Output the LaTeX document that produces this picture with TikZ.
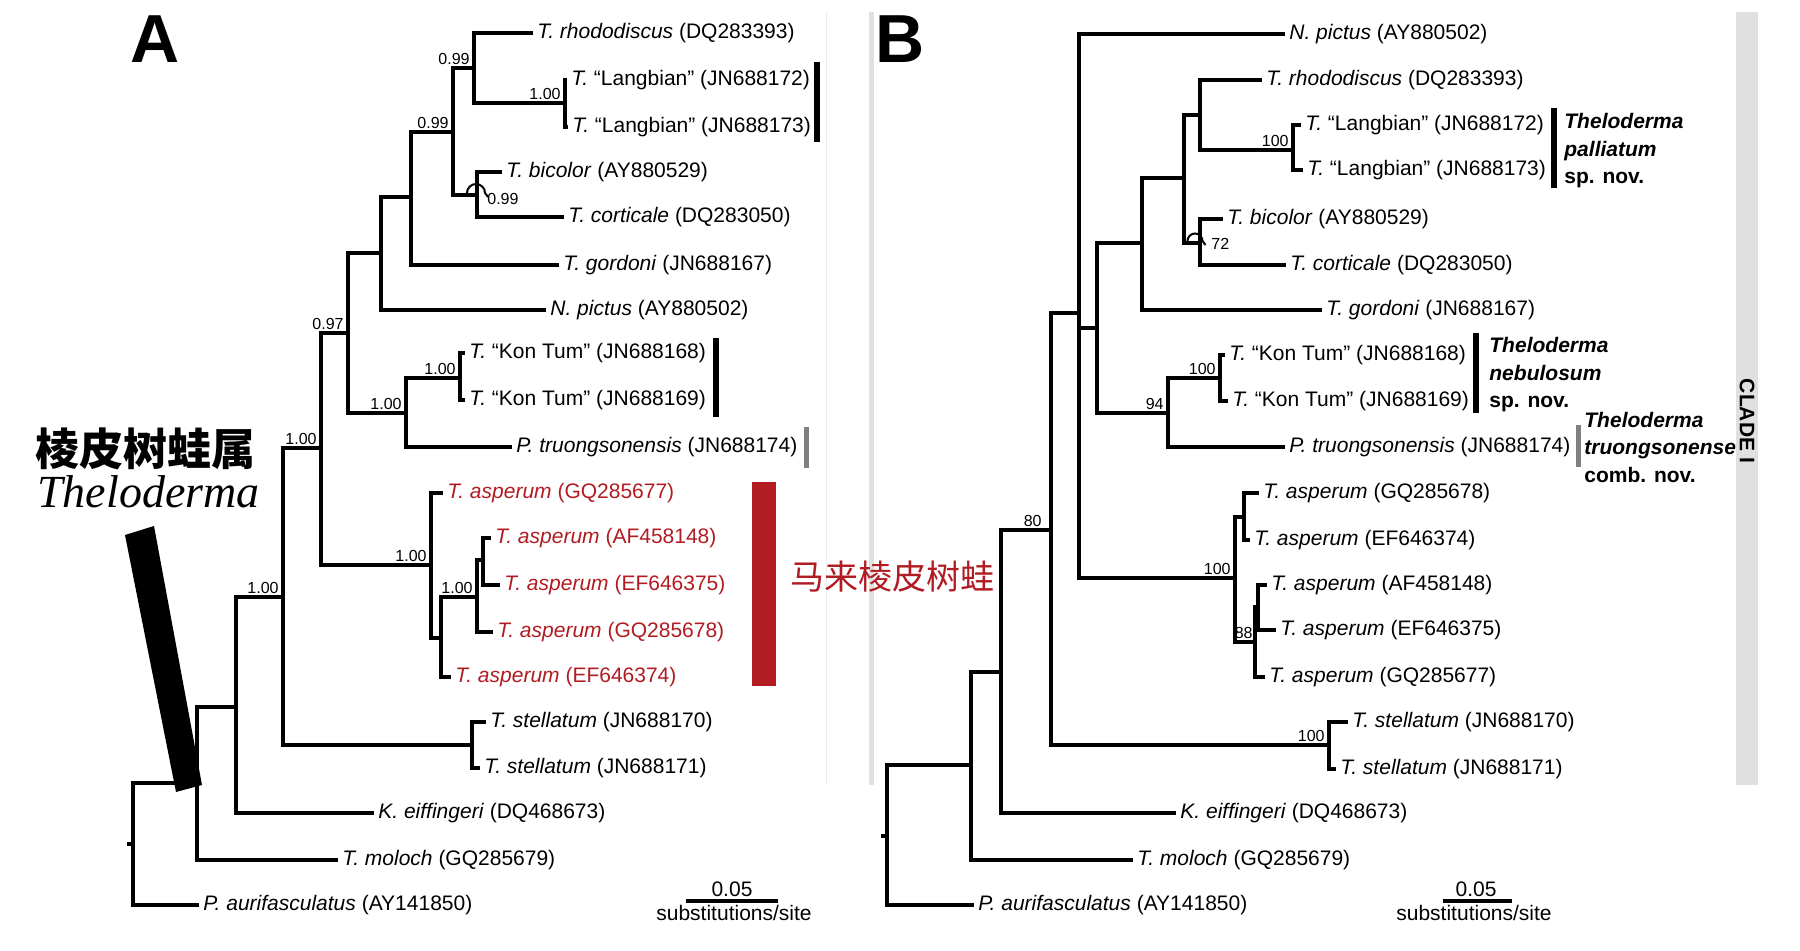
\documentclass[tikz,border=0pt]{standalone}
\usepackage{fontspec}
\setmainfont{Liberation Sans}
\newfontfamily\cjkfont{Noto Sans CJK SC}
\newfontfamily\serifit{Liberation Serif}
\usetikzlibrary{positioning}
\definecolor{asperred}{RGB}{176,28,34}
\definecolor{bandgray}{RGB}{224,224,224}
\definecolor{bargray}{RGB}{128,128,128}

\begin{document}
\begin{tikzpicture}[x=0.5pt,y=-0.5pt,
  branch/.style={line width=1.6pt},
  tip/.style={anchor=west, inner xsep=2pt, inner ysep=1pt, font=\fontsize{10.5}{12}\selectfont},
  redtip/.style={tip, text=asperred},
  supp/.style={inner sep=0.5pt, font=\fontsize{8}{9}\selectfont},
  taxbar/.style={line width=3pt},
  graybar/.style={line width=2.5pt, bargray},
  note/.style={anchor=west, inner sep=0pt, align=left, font=\fontsize{10.5}{13.75}\selectfont\bfseries},
  scaletxt/.style={anchor=base, inner sep=0pt, font=\fontsize{10.5}{12}\selectfont}]
  \useasboundingbox (0,0) rectangle (1800,951);

  % panel frames and clade band
  \fill[bandgray!60] (825.5,12) rectangle (826.5,785);
  \fill[bandgray] (869,12) rectangle (874,785);
  \fill[bandgray] (1736,12) rectangle (1758,785);
  \node[rotate=-90, inner sep=0pt, font=\fontsize{10.5}{12}\selectfont\bfseries] (cladeI) at (1747,421) {CLADE I};

  % panel letters
  \node[font=\fontsize{34}{36}\selectfont\bfseries] (labA) at (155,39) {A};
  \node[font=\fontsize{34}{36}\selectfont\bfseries] (labB) at (900,39) {B};

  % ---------------- tree A ----------------
  \coordinate (A_n0) at (133,844);
  \coordinate (A_n1) at (197,783);
  \coordinate (A_n2) at (236,707);
  \coordinate (A_n3) at (283,597);
  \coordinate (A_n4) at (321,448);
  \coordinate (A_n5) at (348,333);
  \coordinate (A_n6) at (381,253);
  \coordinate (A_n7) at (411,197);
  \coordinate (A_n8) at (453,132);
  \coordinate (A_n9) at (474,68);
  \coordinate (A_lang) at (565,103);
  \coordinate (A_bic) at (477,195);
  \coordinate (A_kon) at (406,413);
  \coordinate (A_kon2) at (460,378);
  \coordinate (A_asp) at (431,565);
  \coordinate (A_asp2) at (441,638);
  \coordinate (A_asp3) at (477,597);
  \coordinate (A_asp4) at (483,560);
  \coordinate (A_stel) at (472,745);
  \coordinate (A_tick) at (127,844);

  \node[tip] (A_t1) at (533,33) {\textit{T. rhododiscus} (DQ283393)};
  \node[tip] (A_t2) at (567,80) {\textit{T.} “Langbian” (JN688172)};
  \node[tip] (A_t3) at (568,127) {\textit{T.} “Langbian” (JN688173)};
  \node[tip] (A_t4) at (502,172) {\textit{T. bicolor} (AY880529)};
  \node[tip] (A_t5) at (564,217) {\textit{T. corticale} (DQ283050)};
  \node[tip] (A_t6) at (559,265) {\textit{T. gordoni} (JN688167)};
  \node[tip] (A_t7) at (546,310) {\textit{N. pictus} (AY880502)};
  \node[tip] (A_t8) at (465,353) {\textit{T.} “Kon Tum” (JN688168)};
  \node[tip] (A_t9) at (465,400) {\textit{T.} “Kon Tum” (JN688169)};
  \node[tip] (A_t10) at (512,447) {\textit{P. truongsonensis} (JN688174)};
  \node[redtip] (A_t11) at (443,493) {\textit{T. asperum} (GQ285677)};
  \node[redtip] (A_t12) at (491,538) {\textit{T. asperum} (AF458148)};
  \node[redtip] (A_t13) at (500,585) {\textit{T. asperum} (EF646375)};
  \node[redtip] (A_t14) at (493,632) {\textit{T. asperum} (GQ285678)};
  \node[redtip] (A_t15) at (451,677) {\textit{T. asperum} (EF646374)};
  \node[tip] (A_t16) at (486,722) {\textit{T. stellatum} (JN688170)};
  \node[tip] (A_t17) at (480,768) {\textit{T. stellatum} (JN688171)};
  \node[tip] (A_t18) at (374,813) {\textit{K. eiffingeri} (DQ468673)};
  \node[tip] (A_t19) at (338,860) {\textit{T. moloch} (GQ285679)};
  \node[tip] (A_t20) at (199,905) {\textit{P. aurifasculatus} (AY141850)};

  \draw[branch] (A_tick) -- (A_n0);
  \foreach \p/\c in {A_n0/A_n1, A_n0/A_t20, A_n1/A_n2, A_n1/A_t19, A_n2/A_n3, A_n2/A_t18,
      A_n3/A_n4, A_n3/A_stel, A_stel/A_t16, A_stel/A_t17, A_n4/A_n5, A_n4/A_asp,
      A_n5/A_n6, A_n5/A_kon, A_n6/A_n7, A_n6/A_t7, A_n7/A_n8, A_n7/A_t6,
      A_n8/A_n9, A_n8/A_bic, A_n9/A_t1, A_n9/A_lang, A_lang/A_t2, A_lang/A_t3,
      A_bic/A_t4, A_bic/A_t5, A_kon/A_kon2, A_kon/A_t10, A_kon2/A_t8, A_kon2/A_t9,
      A_asp/A_t11, A_asp/A_asp2, A_asp2/A_asp3, A_asp2/A_t15, A_asp3/A_asp4, A_asp3/A_t14,
      A_asp4/A_t12, A_asp4/A_t13}
    \draw[branch] (\p) |- (\c);

  % support values A
  \node[supp, above left=1pt and 1.5pt of A_n9] (A_s1) {0.99};
  \node[supp, above left=1pt and 1.5pt of A_n8] (A_s2) {0.99};
  \node[supp, above left=1pt and 1.5pt of A_lang] (A_s3) {1.00};
  \node[supp, above left=1pt and 1.5pt of A_n5] (A_s4) {0.97};
  \node[supp, above left=1pt and 1.5pt of A_kon] (A_s5) {1.00};
  \node[supp, above left=1pt and 1.5pt of A_kon2] (A_s6) {1.00};
  \node[supp, above left=1pt and 1.5pt of A_n4] (A_s7) {1.00};
  \node[supp, above left=1pt and 1.5pt of A_asp] (A_s8) {1.00};
  \node[supp, above left=1pt and 1.5pt of A_asp3] (A_s9) {1.00};
  \node[supp, above left=1pt and 1.5pt of A_n3] (A_s10) {1.00};
  \draw[line width=1pt] ([shift={(-10,-2)}]A_bic) arc[start angle=180, end angle=360, radius=9] -- ++(3,4);
  \node[supp, anchor=west] (A_s11) at (486,199) {0.99};

  % clade bars A
  \draw[taxbar] (817,62) -- (817,142);
  \draw[taxbar] (716,338) -- (716,417);
  \draw[graybar] (806,427) -- (806,468);
  \fill[asperred] (752,482) rectangle (776,686);
  \node[anchor=west, inner sep=0pt, text=asperred, font=\cjkfont\fontsize{17}{20}\selectfont] (malayCN) at (790,577) {马来棱皮树蛙};

  % genus label
  \node[anchor=west, inner sep=0pt, font=\cjkfont\bfseries\fontsize{22}{24}\selectfont] (genusCN) at (35,449) {棱皮树蛙属};
  \node[anchor=base west, inner sep=0pt, font=\serifit\itshape\fontsize{23}{26}\selectfont] (genusLat) at (37,508) {Theloderma};
  \fill (125,535) -- (154,526) -- (202,785) -- (176,792) -- cycle;

  % scale bar A
  \coordinate (A_sb1) at (686,901);
  \coordinate (A_sb2) at (778,901);
  \draw[branch] (A_sb1) -- (A_sb2);
  \node[scaletxt] (A_sbv) at (732,896) {0.05};
  \node[scaletxt] (A_sbu) at (734,920) {substitutions/site};

  % ---------------- tree B ----------------
  \coordinate (B_n0) at (887,836);
  \coordinate (B_n1) at (971,765);
  \coordinate (B_n2) at (1001,672);
  \coordinate (B_n3) at (1051,530);
  \coordinate (B_n4) at (1079,313);
  \coordinate (B_n5) at (1097,328);
  \coordinate (B_n6) at (1142,243);
  \coordinate (B_n7) at (1184,178);
  \coordinate (B_n8) at (1200,115);
  \coordinate (B_lang) at (1293,150);
  \coordinate (B_bic) at (1200,243);
  \coordinate (B_kon) at (1168,413);
  \coordinate (B_kon2) at (1220,378);
  \coordinate (B_asp) at (1235,578);
  \coordinate (B_asp2) at (1244,517);
  \coordinate (B_asp3) at (1255,642);
  \coordinate (B_asp4) at (1258,607);
  \coordinate (B_stel) at (1329,745);
  \coordinate (B_tick) at (881,836);

  \node[tip] (B_t1) at (1285,34) {\textit{N. pictus} (AY880502)};
  \node[tip] (B_t2) at (1262,80) {\textit{T. rhododiscus} (DQ283393)};
  \node[tip] (B_t3) at (1301,125) {\textit{T.} “Langbian” (JN688172)};
  \node[tip] (B_t4) at (1303,170) {\textit{T.} “Langbian” (JN688173)};
  \node[tip] (B_t5) at (1223,219) {\textit{T. bicolor} (AY880529)};
  \node[tip] (B_t6) at (1286,265) {\textit{T. corticale} (DQ283050)};
  \node[tip] (B_t7) at (1322,310) {\textit{T. gordoni} (JN688167)};
  \node[tip] (B_t8) at (1225,355) {\textit{T.} “Kon Tum” (JN688168)};
  \node[tip] (B_t9) at (1228,401) {\textit{T.} “Kon Tum” (JN688169)};
  \node[tip] (B_t10) at (1285,447) {\textit{P. truongsonensis} (JN688174)};
  \node[tip] (B_t11) at (1259,493) {\textit{T. asperum} (GQ285678)};
  \node[tip] (B_t12) at (1250,540) {\textit{T. asperum} (EF646374)};
  \node[tip] (B_t13) at (1267,585) {\textit{T. asperum} (AF458148)};
  \node[tip] (B_t14) at (1276,630) {\textit{T. asperum} (EF646375)};
  \node[tip] (B_t15) at (1265,677) {\textit{T. asperum} (GQ285677)};
  \node[tip] (B_t16) at (1348,722) {\textit{T. stellatum} (JN688170)};
  \node[tip] (B_t17) at (1336,769) {\textit{T. stellatum} (JN688171)};
  \node[tip] (B_t18) at (1176,813) {\textit{K. eiffingeri} (DQ468673)};
  \node[tip] (B_t19) at (1133,860) {\textit{T. moloch} (GQ285679)};
  \node[tip] (B_t20) at (974,905) {\textit{P. aurifasculatus} (AY141850)};

  \draw[branch] (B_tick) -- (B_n0);
  \foreach \p/\c in {B_n0/B_n1, B_n0/B_t20, B_n1/B_n2, B_n1/B_t19, B_n2/B_n3, B_n2/B_t18,
      B_n3/B_n4, B_n3/B_stel, B_stel/B_t16, B_stel/B_t17, B_n4/B_t1, B_n4/B_n5, B_n4/B_asp,
      B_n5/B_n6, B_n5/B_kon, B_n6/B_n7, B_n6/B_t7, B_n7/B_n8, B_n7/B_bic,
      B_n8/B_t2, B_n8/B_lang, B_lang/B_t3, B_lang/B_t4, B_bic/B_t5, B_bic/B_t6,
      B_kon/B_kon2, B_kon/B_t10, B_kon2/B_t8, B_kon2/B_t9,
      B_asp/B_asp2, B_asp/B_asp3, B_asp2/B_t11, B_asp2/B_t12,
      B_asp3/B_asp4, B_asp3/B_t15, B_asp4/B_t13, B_asp4/B_t14}
    \draw[branch] (\p) |- (\c);

  % support values B
  \node[supp, above left=1pt and 1.5pt of B_lang] (B_s1) {100};
  \node[supp, above left=1pt and 1.5pt of B_kon2] (B_s2) {100};
  \node[supp, above left=1pt and 1.5pt of B_kon] (B_s3) {94};
  \node[supp, above left=1pt and 4pt of B_n3] (B_s4) {80};
  \node[supp, above left=1pt and 1.5pt of B_asp] (B_s5) {100};
  \node[supp, above left=1pt and 0.5pt of B_asp3] (B_s6) {88};
  \node[supp, above left=1pt and 1.5pt of B_stel] (B_s7) {100};
  \draw[line width=1pt] ([shift={(-12.5,-2)}]B_bic) arc[start angle=180, end angle=360, radius=7.5] -- ++(3,4);
  \node[supp, anchor=west] (B_s8) at (1210,244) {72};

  % clade bars and names B
  \draw[taxbar] (1554,108) -- (1554,188);
  \draw[taxbar] (1476,333) -- (1476,413);
  \draw[graybar] (1578,425) -- (1578,467);
  \node[note] (B_pall) at (1564,151) {\textit{Theloderma}\\\textit{palliatum}\\sp. nov.};
  \node[note] (B_nebu) at (1489,375) {\textit{Theloderma}\\\textit{nebulosum}\\sp. nov.};
  \node[note] (B_truo) at (1584,447) {\textit{Theloderma}\\\textit{truongsonense}\\comb. nov.};

  % scale bar B
  \coordinate (B_sb1) at (1443,901);
  \coordinate (B_sb2) at (1512,901);
  \draw[branch] (B_sb1) -- (B_sb2);
  \node[scaletxt] (B_sbv) at (1476,896) {0.05};
  \node[scaletxt] (B_sbu) at (1474,920) {substitutions/site};
\end{tikzpicture}
\end{document}
